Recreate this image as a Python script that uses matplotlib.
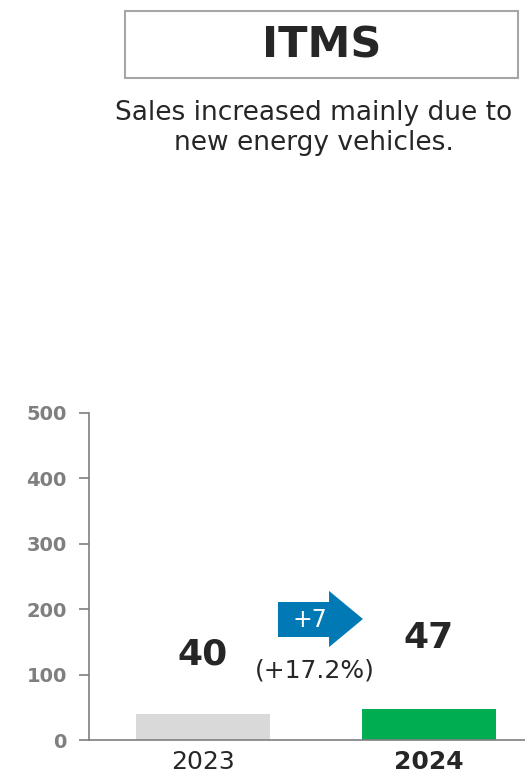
import matplotlib.pyplot as plt
from matplotlib.patches import Polygon, Rectangle

# sales, billion yen
years = ['2023', '2024']
sales = [40, 47]
diff_label = '+7'
pct_label = '(+17.2%)'
yticks = [0, 100, 200, 300, 400, 500]

title = 'ITMS'
comment = 'Sales increased mainly due to\nnew energy vehicles.'

plt.rcParams['font.family'] = ['DejaVu Sans']
txt = '#262626'
grey = '#7f7f7f'

fig = plt.figure(figsize=(5.25, 7.77), dpi=100)
W, H = 525, 777

# title box
fig.patches.append(Rectangle((125 / W, 1 - 78 / H), 393 / W, 67 / H,
                             transform=fig.transFigure, fill=False,
                             edgecolor='#a6a6a6', linewidth=1.5))
fig.text(322 / W, 1 - 46 / H, title, ha='center', va='center',
         fontsize=31, fontweight='bold', color=txt)
fig.text(314 / W, 1 - 128 / H, comment, ha='center', va='center',
         fontsize=19, color=txt, linespacing=1.22)

ax = fig.add_axes([89 / W, 37 / H, 436 / W, 327 / H])
x = range(len(years))
ax.bar(x, sales, width=0.593, color=['#d9d9d9', '#00ad50'], zorder=2)
ax.set_xlim(-0.504, 1.425)
ax.set_ylim(0, 500)
ax.set_yticks(yticks)
ax.set_xticks(list(x))
ax.set_xticklabels(years, fontsize=18, color=txt)
ax.get_xticklabels()[1].set_fontweight('bold')
ax.tick_params(axis='x', length=0, pad=7)
ax.tick_params(axis='y', length=7, width=1.2, color=grey, labelcolor=grey,
               labelsize=14, pad=9)
for lab in ax.get_yticklabels():
    lab.set_fontweight('bold')
for s in ['top', 'right']:
    ax.spines[s].set_visible(False)
for s in ['left', 'bottom']:
    ax.spines[s].set_color(grey)
    ax.spines[s].set_linewidth(1.2)

# value labels
ax.text(0, sales[0] + 90, str(sales[0]), ha='center', va='center',
        fontsize=26, fontweight='bold', color=txt)
ax.text(1, sales[1] + 109, str(sales[1]), ha='center', va='center',
        fontsize=26, fontweight='bold', color=txt)

# change arrow
arrow = Polygon([(0.332, 211), (0.558, 211), (0.558, 228), (0.708, 185),
                 (0.558, 142), (0.558, 157.5), (0.332, 157.5)],
                closed=True, facecolor='#0079b5', edgecolor='none', zorder=3)
ax.add_patch(arrow)
ax.text(0.473, 184, diff_label, ha='center', va='center', fontsize=17,
        color='white', zorder=4)
ax.text(0.496, 107, pct_label, ha='center', va='center', fontsize=18,
        color=txt)

fig.savefig('out.png', dpi=100)
